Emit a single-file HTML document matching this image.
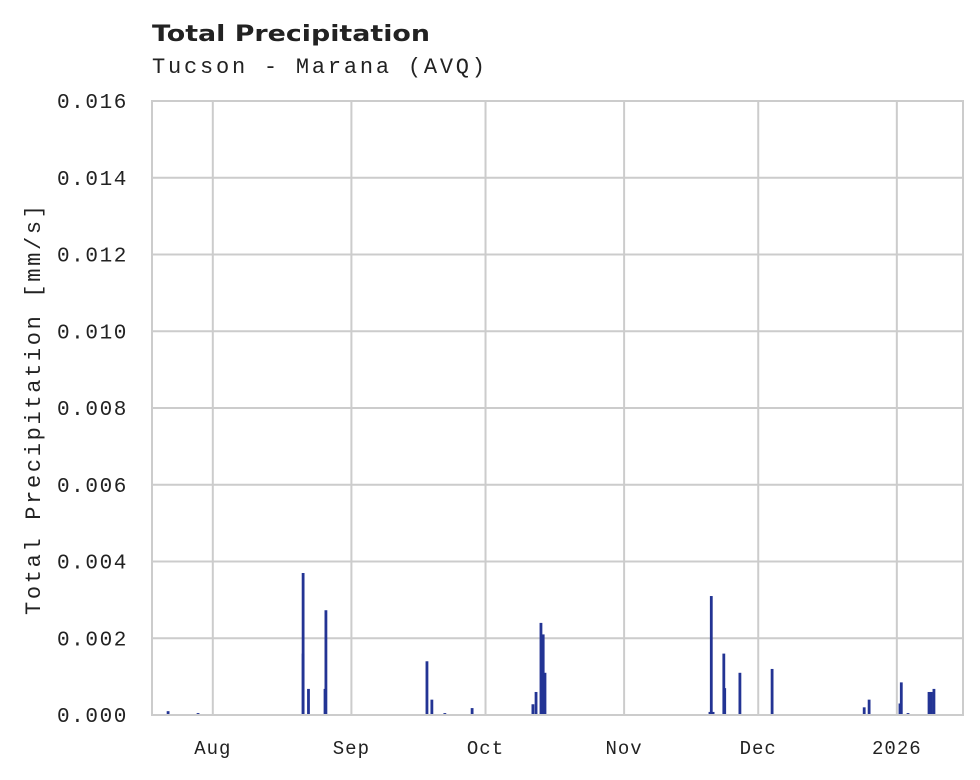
<!DOCTYPE html>
<html><head><meta charset="utf-8">
<style>
html,body{margin:0;padding:0;background:#fff;}
svg{display:block;}
</style></head>
<body>
<svg id="chart" width="980" height="780" xmlns="http://www.w3.org/2000/svg">
<text x="152" y="41" textLength="278" lengthAdjust="spacingAndGlyphs" font-family="'DejaVu Sans','Liberation Sans',sans-serif" font-weight="bold" font-size="22" fill="#222">Total Precipitation</text>
<text x="152" y="73" textLength="333" lengthAdjust="spacing" font-family="'Liberation Mono','DejaVu Sans Mono',monospace" font-size="22" fill="#222">Tucson - Marana (AVQ)</text>
<g id="grid"></g>
<g id="bars"></g>
<rect x="152" y="101" width="811" height="614" fill="none" stroke="#ccc" stroke-width="2"/>
<g id="labels"></g>
<text transform="translate(40,410) rotate(-90)" text-anchor="middle" textLength="410" lengthAdjust="spacing" font-family="'Liberation Mono','DejaVu Sans Mono',monospace" font-size="22" fill="#222">Total Precipitation [mm/s]</text>
</svg>
<script>
// days since ~Jul 18 2025
const barDays = [3.6,10.3,33.8,33.8,35.0,38.7,38.9,61.5,62.6,65.5,71.6,85.2,85.9,87.0,87.5,87.9,124.8,125.1,125.5,127.9,128.1,131.5,138.7,159.3,160.4,167.3,167.6,169.1,173.8,174.3,174.9];
const barValues = [0.0001,0.00005,0.0016,0.0037,0.00068,0.00068,0.00273,0.0014,0.0004,0.00005,0.00018,0.00028,0.0006,0.0024,0.0021,0.0011,0.00008,0.0031,0.00008,0.0016,0.0007,0.0011,0.0012,0.0002,0.0004,0.0003,0.00085,0.00005,0.0006,0.0006,0.00068];
const yTicks = [0,0.002,0.004,0.006,0.008,0.010,0.012,0.014,0.016];
const xTickDays = [13.6,44.6,74.6,105.6,135.6,166.6];
const xTickLabels = ["Aug","Sep","Oct","Nov","Dec","2026"];
const NS="http://www.w3.org/2000/svg";
const X0=152,X1=963,Y0=715,Y1=101,DMAX=181.4,VMAX=0.016;
const xs=d=>X0+(X1-X0)*d/DMAX;
const ys=v=>Y0-(Y0-Y1)*v/VMAX;
const grid=document.getElementById('grid'),bars=document.getElementById('bars'),labels=document.getElementById('labels');
function mk(tag,attrs,parent){const e=document.createElementNS(NS,tag);for(const k in attrs)e.setAttribute(k,attrs[k]);parent.appendChild(e);return e;}
yTicks.forEach(v=>{
  const l=mk('line',{x1:X0,x2:X1,y1:ys(v),y2:ys(v),stroke:'#ccc','stroke-width':2},grid);
  
  
  const t=mk('text',{x:128,y:ys(v)+7,'text-anchor':'end','font-family':"'Liberation Mono','DejaVu Sans Mono',monospace",'font-size':21,'letter-spacing':'1.6',fill:'#222'},labels);
  t.textContent=v.toFixed(3);
  
  
});
xTickDays.forEach((d,i)=>{
  const l=mk('line',{x1:xs(d),x2:xs(d),y1:Y1,y2:Y0,stroke:'#ccc','stroke-width':2},grid);
  
  
  const t=mk('text',{x:xs(d),y:754,'text-anchor':'middle','font-family':"'Liberation Mono','DejaVu Sans Mono',monospace",'font-size':19,'letter-spacing':'1',fill:'#222'},labels);
  t.textContent=xTickLabels[i];
  
  
});
barDays.forEach((d,i)=>{
  const y=ys(barValues[i]);
  const r=mk('rect',{x:xs(d)-1.4,y:y,width:2.8,height:Y0-y,fill:'#233494'},bars);
  
  
});
</script>
</body></html>
